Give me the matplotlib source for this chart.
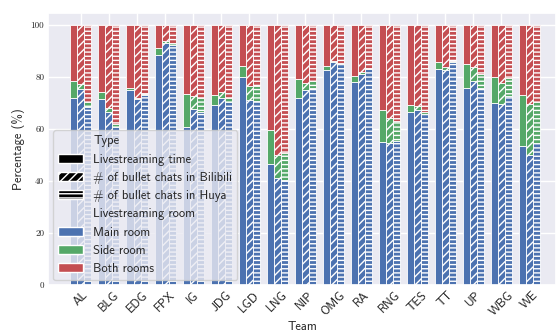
import numpy as np
import matplotlib
matplotlib.use("Agg")
import matplotlib.pyplot as plt
import seaborn as sns
from matplotlib.patches import Patch

sns.set_theme(style="darkgrid")
plt.rcParams['font.family'] = ['cmss10', 'DejaVu Sans']
plt.rcParams['axes.unicode_minus'] = False
plt.rcParams['hatch.linewidth'] = 1.0

teams = ['AL', 'BLG', 'EDG', 'FPX', 'IG', 'JDG', 'LGD', 'LNG', 'NIP',
         'OMG', 'RA', 'RNG', 'TES', 'TT', 'UP', 'WBG', 'WE']

# share (%) of each room type, per team
time_main = [71.7, 71.5, 74.8, 88.2, 60.8, 69.2, 80.0, 46.5, 71.7,
             82.6, 77.9, 55.1, 66.3, 82.9, 75.8, 69.8, 53.4]
time_side = [6.7, 2.5, 1.0, 3.0, 12.5, 3.8, 4.3, 13.0, 7.3,
             1.5, 2.4, 12.1, 2.9, 2.9, 9.1, 10.2, 19.5]

bili_main = [75.3, 66.3, 71.5, 92.8, 67.5, 72.0, 71.1, 41.0, 74.9,
             85.5, 81.1, 54.4, 67.4, 82.6, 78.4, 69.4, 49.9]
bili_side = [1.9, 1.8, 0.3, 0.8, 5.0, 2.3, 5.5, 8.9, 2.6,
             0.7, 0.7, 9.6, 1.5, 1.0, 5.2, 8.1, 19.5]

huya_main = [68.5, 60.7, 73.0, 92.3, 66.6, 70.2, 70.8, 40.5, 75.6,
             84.9, 83.0, 55.3, 65.8, 85.5, 75.6, 72.7, 54.4]
huya_side = [1.7, 1.2, 0.4, 0.8, 5.1, 1.8, 5.5, 10.1, 2.9,
             0.5, 0.5, 7.7, 0.8, 0.7, 5.5, 6.7, 15.8]

colors = ['#4C72B0', '#55A868', '#C44E52']
hatches = ['', '////', '----']
width = 0.25

fig = plt.figure(figsize=(5.59, 3.35), dpi=100)
ax = fig.add_axes([0.0864, 0.149, 0.9083, 0.813])

x = np.arange(len(teams))
series = [(time_main, time_side), (bili_main, bili_side), (huya_main, huya_side)]
for k, (main, side) in enumerate(series):
    main = np.array(main)
    side = np.array(side)
    both = 100 - main - side
    pos = x + (k - 1) * width
    kw = dict(width=width, edgecolor='white', linewidth=0.6, hatch=hatches[k])
    ax.bar(pos, main, color=colors[0], **kw)
    ax.bar(pos, side, bottom=main, color=colors[1], **kw)
    ax.bar(pos, both, bottom=main + side, color=colors[2], **kw)

ax.set_xlim(-1.165, 16.95)
ax.set_ylim(0, 104.6)
ax.set_xticks(x)
ax.set_xticklabels(teams, rotation=45, ha='center', fontsize=9)
ax.set_yticks([0, 20, 40, 60, 80, 100])
ax.set_yticklabels(['0', '20', '40', '60', '80', '100'],
                   fontsize=6.5, family='cmr10')
ax.tick_params(axis='both', length=0, pad=3)
ax.set_xlabel('Team', fontsize=9, labelpad=2)
ax.set_ylabel('Percentage (%)', fontsize=9, labelpad=4)

blank = Patch(facecolor='none', edgecolor='none')
handles = [blank,
           Patch(facecolor='black', edgecolor='white', hatch=''),
           Patch(facecolor='black', edgecolor='white', hatch='////'),
           Patch(facecolor='black', edgecolor='white', hatch='----'),
           blank,
           Patch(facecolor=colors[0]),
           Patch(facecolor=colors[1]),
           Patch(facecolor=colors[2])]
labels = ['Type', 'Livestreaming time', '# of bullet chats in Bilibili',
          '# of bullet chats in Huya', 'Livestreaming room',
          'Main room', 'Side room', 'Both rooms']
ax.legend(handles, labels, loc='lower left', fontsize=9,
          borderaxespad=0.4)

fig.savefig('out.png', dpi=100)
